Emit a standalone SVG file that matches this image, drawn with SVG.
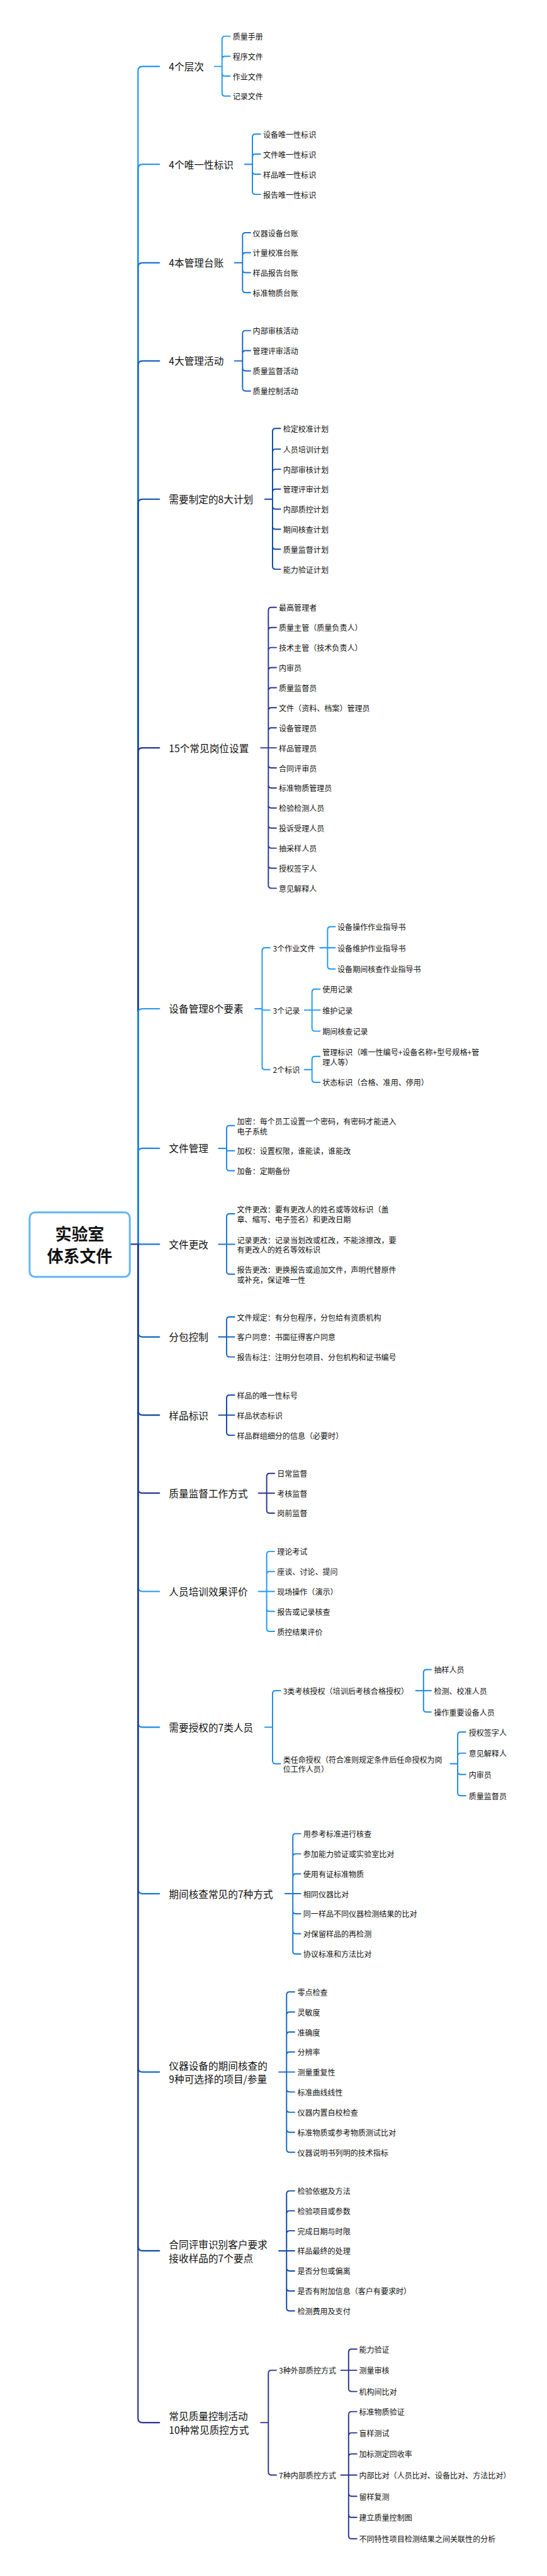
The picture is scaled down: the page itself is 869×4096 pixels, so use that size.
<svg xmlns="http://www.w3.org/2000/svg" width="869" height="4096" viewBox="0 0 869 4096">
<style>
text{font-family:"Noto Sans CJK SC","Noto Sans",sans-serif;fill:#111;dominant-baseline:central}
.b{font-size:26px}
.l{font-size:20px}
.r{font-size:43px;font-weight:bold;text-anchor:middle}
path{fill:none;stroke-linecap:round;stroke-linejoin:round}
.m{stroke-width:3.6}
.s{stroke-width:3.2}
.c1{stroke:#2196f3}.c2{stroke:#1e88e5}.c3{stroke:#1976d2}.c4{stroke:#1565c0}.c5{stroke:#0d47a1}.c6{stroke:#283593}
</style>
<rect width="869" height="4096" fill="#fff"/>
<g transform="scale(0.603)">
<g id="connectors">
<path class="m c1" d="M363.6,3281V187.2Q363.6,175.2 375.6,175.2H420"/>
<path class="m c2" d="M363.6,3281V445.3Q363.6,433.3 375.6,433.3H420"/>
<path class="m c3" d="M363.6,3281V704.9Q363.6,692.9 375.6,692.9H420"/>
<path class="m c4" d="M363.6,3281V963.7Q363.6,951.7 375.6,951.7H420"/>
<path class="m c5" d="M363.6,3281V1328.3Q363.6,1316.3 375.6,1316.3H420"/>
<path class="m c6" d="M363.6,3281V1984Q363.6,1972 375.6,1972H420"/>
<path class="m c1" d="M363.6,3281V2672Q363.6,2660 375.6,2660H420"/>
<path class="m c2" d="M363.6,3281V3040.1Q363.6,3028.1 375.6,3028.1H420"/>
<path class="m c3" d="M363.6,3281H420"/>
<path class="m c4" d="M363.6,3281V3513.4Q363.6,3525.4 375.6,3525.4H420"/>
<path class="m c5" d="M363.6,3281V3719.5Q363.6,3731.5 375.6,3731.5H420"/>
<path class="m c6" d="M363.6,3281V3925.3Q363.6,3937.3 375.6,3937.3H420"/>
<path class="m c1" d="M363.6,3281V4184.5Q363.6,4196.5 375.6,4196.5H420"/>
<path class="m c2" d="M363.6,3281V4542.5Q363.6,4554.5 375.6,4554.5H420"/>
<path class="m c3" d="M363.6,3281V4981.5Q363.6,4993.5 375.6,4993.5H420"/>
<path class="m c4" d="M363.6,3281V5451.7Q363.6,5463.7 375.6,5463.7H420"/>
<path class="m c5" d="M363.6,3281V5923.2Q363.6,5935.2 375.6,5935.2H420"/>
<path class="m c6" d="M363.6,3281V6376.3Q363.6,6388.3 375.6,6388.3H420"/>
<path class="m c6" d="M344,3281H363.6"/>

<path class="s c1" d="M565,175.2H585M585,175.2V103.6Q585,95.6 593,95.6H606M585,175.2V156.3Q585,148.3 593,148.3H606M585,175.2V192.7Q585,200.7 593,200.7H606M585,175.2V245.4Q585,253.4 593,253.4H606"/>
<path class="s c2" d="M644.7,433.3H665M665,433.3V361.7Q665,353.7 673,353.7H686M665,433.3V414.4Q665,406.4 673,406.4H686M665,433.3V451.5Q665,459.5 673,459.5H686M665,433.3V504.6Q665,512.6 673,512.6H686"/>
<path class="s c3" d="M618,692.9H639M639,692.9V621.6Q639,613.6 647,613.6H660M639,692.9V674.3Q639,666.3 647,666.3H660M639,692.9V711Q639,719 647,719H660M639,692.9V763.7Q639,771.7 647,771.7H660"/>
<path class="s c4" d="M618,951.7H639M639,951.7V879.7Q639,871.7 647,871.7H660M639,951.7V932.4Q639,924.4 647,924.4H660M639,951.7V969.9Q639,977.9 647,977.9H660M639,951.7V1023Q639,1031 647,1031H660"/>
<path class="s c5" d="M698,1316.3H718M718,1316.3V1137.8Q718,1129.8 726,1129.8H739M718,1316.3V1192.3Q718,1184.3 726,1184.3H739M718,1316.3V1245.4Q718,1237.4 726,1237.4H739M718,1316.3V1297.8Q718,1289.8 726,1289.8H739M718,1316.3V1334.5Q718,1342.5 726,1342.5H739M718,1316.3V1387.6Q718,1395.6 726,1395.6H739M718,1316.3V1440.3Q718,1448.3 726,1448.3H739M718,1316.3V1493Q718,1501 726,1501H739"/>
<path class="s c6" d="M687,1972H728M707,1972V1609.7Q707,1601.7 715,1601.7H728M707,1972V1662.6Q707,1654.6 715,1654.6H728M707,1972V1715.5Q707,1707.5 715,1707.5H728M707,1972V1768.4Q707,1760.4 715,1760.4H728M707,1972V1821.3Q707,1813.3 715,1813.3H728M707,1972V1874.2Q707,1866.2 715,1866.2H728M707,1972V1927.1Q707,1919.1 715,1919.1H728M707,1972V2016.9Q707,2024.9 715,2024.9H728M707,1972V2069.8Q707,2077.8 715,2077.8H728M707,1972V2122.7Q707,2130.7 715,2130.7H728M707,1972V2175.6Q707,2183.6 715,2183.6H728M707,1972V2228.5Q707,2236.5 715,2236.5H728M707,1972V2281.4Q707,2289.4 715,2289.4H728M707,1972V2334.3Q707,2342.3 715,2342.3H728"/>
<path class="s c1" d="M672,2660H690.6M690.6,2660V2507.2Q690.6,2499.2 698.6,2499.2H711M690.6,2660V2663.5H711M690.6,2660V2812.5Q690.6,2820.5 698.6,2820.5H711"/>
<path class="s c1" d="M843,2499.2H883M863,2499.2V2451.6Q863,2443.6 871,2443.6H883M863,2499.2V2547.2Q863,2555.2 871,2555.2H883"/>
<path class="s c1" d="M802,2663.5H843M822,2663.5V2616.3Q822,2608.3 830,2608.3H843M822,2663.5V2711.1Q822,2719.1 830,2719.1H843"/>
<path class="s c1" d="M802,2820.5H822M822,2820.5V2793.7Q822,2785.7 830,2785.7H843M822,2820.5V2846Q822,2854 830,2854H843"/>
<path class="s c2" d="M576,3028.1H597M597,3028.1V2976Q597,2968 605,2968H618M597,3028.1V3034.3H618M597,3028.1V3079Q597,3087 605,3087H618"/>
<path class="s c3" d="M576,3281H618M597,3281V3208.8Q597,3200.8 605,3200.8H618M597,3281V3352Q597,3360 605,3360H618"/>
<path class="s c4" d="M576,3525.4H618M597,3525.4V3480.7Q597,3472.7 605,3472.7H618M597,3525.4V3570.1Q597,3578.1 605,3578.1H618"/>
<path class="s c5" d="M576,3731.5H618M597,3731.5V3686.8Q597,3678.8 605,3678.8H618M597,3731.5V3776.6Q597,3784.6 605,3784.6H618"/>
<path class="s c6" d="M681,3937.3H723M702.6,3937.3V3893.3Q702.6,3885.3 710.6,3885.3H723M702.6,3937.3V3982Q702.6,3990 710.6,3990H723"/>
<path class="s c1" d="M681,4196.5H723M702.6,4196.5V4099Q702.6,4091 710.6,4091H723M702.6,4196.5V4151.8Q702.6,4143.8 710.6,4143.8H723M702.6,4196.5V4241.2Q702.6,4249.2 710.6,4249.2H723M702.6,4196.5V4293.9Q702.6,4301.9 710.6,4301.9H723"/>
<path class="s c2" d="M698,4554.5H718M718,4554.5V4466.2Q718,4458.2 726,4458.2H739M718,4554.5V4642.9Q718,4650.9 726,4650.9H739"/>
<path class="s c2" d="M1095.6,4458.2H1136M1115.8,4458.2V4410.6Q1115.8,4402.6 1123.8,4402.6H1136M1115.8,4458.2V4506.6Q1115.8,4514.6 1123.8,4514.6H1136"/>
<path class="s c2" d="M1186.6,4650.9H1205.8M1205.8,4650.9V4575.3Q1205.8,4567.3 1213.8,4567.3H1227M1205.8,4650.9V4630.9Q1205.8,4622.9 1213.8,4622.9H1227M1205.8,4650.9V4671.2Q1205.8,4679.2 1213.8,4679.2H1227M1205.8,4650.9V4727.2Q1205.8,4735.2 1213.8,4735.2H1227"/>
<path class="s c3" d="M751,4993.5H792M771.5,4993.5V4843.2Q771.5,4835.2 779.5,4835.2H792M771.5,4993.5V4896.3Q771.5,4888.3 779.5,4888.3H792M771.5,4993.5V4949Q771.5,4941 779.5,4941H792M771.5,4993.5V5038.4Q771.5,5046.4 779.5,5046.4H792M771.5,4993.5V5091.1Q771.5,5099.1 779.5,5099.1H792M771.5,4993.5V5144.5Q771.5,5152.5 779.5,5152.5H792"/>
<path class="s c4" d="M734.7,5463.7H776M755,5463.7V5260.5Q755,5252.5 763,5252.5H776M755,5463.7V5313.6Q755,5305.6 763,5305.6H776M755,5463.7V5366.3Q755,5358.3 763,5358.3H776M755,5463.7V5419Q755,5411 763,5411H776M755,5463.7V5508.4Q755,5516.4 763,5516.4H776M755,5463.7V5561.9Q755,5569.9 763,5569.9H776M755,5463.7V5614.6Q755,5622.6 763,5622.6H776M755,5463.7V5667.3Q755,5675.3 763,5675.3H776"/>
<path class="s c5" d="M734.7,5935.2H776M755,5935.2V5785.1Q755,5777.1 763,5777.1H776M755,5935.2V5837.8Q755,5829.8 763,5829.8H776M755,5935.2V5890.5Q755,5882.5 763,5882.5H776M755,5935.2V5980.3Q755,5988.3 763,5988.3H776M755,5935.2V6033Q755,6041 763,6041H776M755,5935.2V6085.7Q755,6093.7 763,6093.7H776"/>
<path class="s c6" d="M687,6388.3H707M707,6388.3V6258.2Q707,6250.2 715,6250.2H728M707,6388.3V6518.4Q707,6526.4 715,6526.4H728"/>
<path class="s c6" d="M898,6250.2H940M918.4,6250.2V6202.4Q918.4,6194.4 926.4,6194.4H940M918.4,6250.2V6298.2Q918.4,6306.2 926.4,6306.2H940"/>
<path class="s c6" d="M898,6526.4H940M918.4,6526.4V6367.2Q918.4,6359.2 926.4,6359.2H940M918.4,6526.4V6423.2Q918.4,6415.2 926.4,6415.2H940M918.4,6526.4V6478.8Q918.4,6470.8 926.4,6470.8H940M918.4,6526.4V6574.4Q918.4,6582.4 926.4,6582.4H940M918.4,6526.4V6630Q918.4,6638 926.4,6638H940M918.4,6526.4V6686.4Q918.4,6694.4 926.4,6694.4H940"/>
</g>

<g id="root"><rect x="78" y="3197" width="264" height="170" rx="14" fill="#fff" stroke="#64b5f6" stroke-width="5"/><text class="r" x="210" y="3251">实验室</text><text class="r" x="210" y="3310">体系文件</text></g>

<g id="n1"><text class="b" x="445" y="175.2">4个层次</text></g>
<g id="n1-1"><text class="l" x="613" y="95.6">质量手册</text></g>
<g id="n1-2"><text class="l" x="613" y="148.3">程序文件</text></g>
<g id="n1-3"><text class="l" x="613" y="200.7">作业文件</text></g>
<g id="n1-4"><text class="l" x="613" y="253.4">记录文件</text></g>

<g id="n2"><text class="b" x="445" y="433.3">4个唯一性标识</text></g>
<g id="n2-1"><text class="l" x="693" y="353.7">设备唯一性标识</text></g>
<g id="n2-2"><text class="l" x="693" y="406.4">文件唯一性标识</text></g>
<g id="n2-3"><text class="l" x="693" y="459.5">样品唯一性标识</text></g>
<g id="n2-4"><text class="l" x="693" y="512.6">报告唯一性标识</text></g>

<g id="n3"><text class="b" x="445" y="692.9">4本管理台账</text></g>
<g id="n3-1"><text class="l" x="666" y="613.6">仪器设备台账</text></g>
<g id="n3-2"><text class="l" x="666" y="666.3">计量校准台账</text></g>
<g id="n3-3"><text class="l" x="666" y="719">样品报告台账</text></g>
<g id="n3-4"><text class="l" x="666" y="771.7">标准物质台账</text></g>

<g id="n4"><text class="b" x="445" y="951.7">4大管理活动</text></g>
<g id="n4-1"><text class="l" x="666" y="871.7">内部审核活动</text></g>
<g id="n4-2"><text class="l" x="666" y="924.4">管理评审活动</text></g>
<g id="n4-3"><text class="l" x="666" y="977.9">质量监督活动</text></g>
<g id="n4-4"><text class="l" x="666" y="1031">质量控制活动</text></g>

<g id="n5"><text class="b" x="445" y="1316.3">需要制定的8大计划</text></g>
<g id="n5-1"><text class="l" x="745.7" y="1129.8">检定校准计划</text></g>
<g id="n5-2"><text class="l" x="745.7" y="1184.3">人员培训计划</text></g>
<g id="n5-3"><text class="l" x="745.7" y="1237.4">内部审核计划</text></g>
<g id="n5-4"><text class="l" x="745.7" y="1289.8">管理评审计划</text></g>
<g id="n5-5"><text class="l" x="745.7" y="1342.5">内部质控计划</text></g>
<g id="n5-6"><text class="l" x="745.7" y="1395.6">期间核查计划</text></g>
<g id="n5-7"><text class="l" x="745.7" y="1448.3">质量监督计划</text></g>
<g id="n5-8"><text class="l" x="745.7" y="1501">能力验证计划</text></g>

<g id="n6"><text class="b" x="445" y="1972">15个常见岗位设置</text></g>
<g id="n6-1"><text class="l" x="734.7" y="1601.7">最高管理者</text></g>
<g id="n6-2"><text class="l" x="734.7" y="1654.6">质量主管（质量负责人）</text></g>
<g id="n6-3"><text class="l" x="734.7" y="1707.5">技术主管（技术负责人）</text></g>
<g id="n6-4"><text class="l" x="734.7" y="1760.4">内审员</text></g>
<g id="n6-5"><text class="l" x="734.7" y="1813.3">质量监督员</text></g>
<g id="n6-6"><text class="l" x="734.7" y="1866.2">文件（资料、档案）管理员</text></g>
<g id="n6-7"><text class="l" x="734.7" y="1919.1">设备管理员</text></g>
<g id="n6-8"><text class="l" x="734.7" y="1972">样品管理员</text></g>
<g id="n6-9"><text class="l" x="734.7" y="2024.9">合同评审员</text></g>
<g id="n6-10"><text class="l" x="734.7" y="2077.8">标准物质管理员</text></g>
<g id="n6-11"><text class="l" x="734.7" y="2130.7">检验检测人员</text></g>
<g id="n6-12"><text class="l" x="734.7" y="2183.6">投诉受理人员</text></g>
<g id="n6-13"><text class="l" x="734.7" y="2236.5">抽采样人员</text></g>
<g id="n6-14"><text class="l" x="734.7" y="2289.4">授权签字人</text></g>
<g id="n6-15"><text class="l" x="734.7" y="2342.3">意见解释人</text></g>

<g id="n7"><text class="b" x="445" y="2660">设备管理8个要素</text></g>
<g id="n7-1"><text class="l" x="719" y="2499.2">3个作业文件</text></g>
<g id="n7-1-1"><text class="l" x="889" y="2443.6">设备操作作业指导书</text></g>
<g id="n7-1-2"><text class="l" x="889" y="2499.2">设备维护作业指导书</text></g>
<g id="n7-1-3"><text class="l" x="889" y="2555.2">设备期间核查作业指导书</text></g>
<g id="n7-2"><text class="l" x="719" y="2663.5">3个记录</text></g>
<g id="n7-2-1"><text class="l" x="849.5" y="2608.3">使用记录</text></g>
<g id="n7-2-2"><text class="l" x="849.5" y="2663.5">维护记录</text></g>
<g id="n7-2-3"><text class="l" x="849.5" y="2719.1">期间核查记录</text></g>
<g id="n7-3"><text class="l" x="719" y="2820.5">2个标识</text></g>
<g id="n7-3-1"><text class="l"><tspan x="849.5" y="2772.5">管理标识（唯一性编号+设备名称+型号规格+管</tspan><tspan x="849.5" y="2799">理人等）</tspan></text></g>
<g id="n7-3-2"><text class="l" x="849.5" y="2854">状态标识（合格、准用、停用）</text></g>

<g id="n8"><text class="b" x="445" y="3028.1">文件管理</text></g>
<g id="n8-1"><text class="l"><tspan x="624.5" y="2955">加密：每个员工设置一个密码，有密码才能进入</tspan><tspan x="624.5" y="2981.5">电子系统</tspan></text></g>
<g id="n8-2"><text class="l" x="624.5" y="3034.3">加权：设置权限，谁能读，谁能改</text></g>
<g id="n8-3"><text class="l" x="624.5" y="3087">加备：定期备份</text></g>

<g id="n9"><text class="b" x="445" y="3281">文件更改</text></g>
<g id="n9-1"><text class="l"><tspan x="624.5" y="3188">文件更改：要有更改人的姓名或等效标识（盖</tspan><tspan x="624.5" y="3214.5">章、缩写、电子签名）和更改日期</tspan></text></g>
<g id="n9-2"><text class="l"><tspan x="624.5" y="3268">记录更改：记录当划改或杠改，不能涂擦改，要</tspan><tspan x="624.5" y="3294">有更改人的姓名等效标识</tspan></text></g>
<g id="n9-3"><text class="l"><tspan x="624.5" y="3347">报告更改：更换报告或追加文件，声明代替原件</tspan><tspan x="624.5" y="3373.5">或补充，保证唯一性</tspan></text></g>

<g id="n10"><text class="b" x="445" y="3525.4">分包控制</text></g>
<g id="n10-1"><text class="l" x="624.5" y="3472.7">文件规定：有分包程序，分包给有资质机构</text></g>
<g id="n10-2"><text class="l" x="624.5" y="3525.4">客户同意：书面征得客户同意</text></g>
<g id="n10-3"><text class="l" x="624.5" y="3578.1">报告标注：注明分包项目、分包机构和证书编号</text></g>

<g id="n11"><text class="b" x="445" y="3731.5">样品标识</text></g>
<g id="n11-1"><text class="l" x="624.5" y="3678.8">样品的唯一性标号</text></g>
<g id="n11-2"><text class="l" x="624.5" y="3731.5">样品状态标识</text></g>
<g id="n11-3"><text class="l" x="624.5" y="3784.6">样品群组细分的信息（必要时）</text></g>

<g id="n12"><text class="b" x="445" y="3937.3">质量监督工作方式</text></g>
<g id="n12-1"><text class="l" x="730" y="3885.3">日常监督</text></g>
<g id="n12-2"><text class="l" x="730" y="3937.3">考核监督</text></g>
<g id="n12-3"><text class="l" x="730" y="3990">岗前监督</text></g>

<g id="n13"><text class="b" x="445" y="4196.5">人员培训效果评价</text></g>
<g id="n13-1"><text class="l" x="730" y="4091">理论考试</text></g>
<g id="n13-2"><text class="l" x="730" y="4143.8">座谈、讨论、提问</text></g>
<g id="n13-3"><text class="l" x="730" y="4196.5">现场操作（演示）</text></g>
<g id="n13-4"><text class="l" x="730" y="4249.2">报告或记录核查</text></g>
<g id="n13-5"><text class="l" x="730" y="4301.9">质控结果评价</text></g>

<g id="n14"><text class="b" x="445" y="4554.5">需要授权的7类人员</text></g>
<g id="n14-1"><text class="l" x="745.7" y="4458.2">3类考核授权（培训后考核合格授权）</text></g>
<g id="n14-1-1"><text class="l" x="1143.4" y="4402.6">抽样人员</text></g>
<g id="n14-1-2"><text class="l" x="1143.4" y="4458.2">检测、校准人员</text></g>
<g id="n14-1-3"><text class="l" x="1143.4" y="4514.6">操作重要设备人员</text></g>
<g id="n14-2"><text class="l"><tspan x="745.7" y="4638">类任命授权（符合准则规定条件后任命授权为岗</tspan><tspan x="745.7" y="4664">位工作人员）</tspan></text></g>
<g id="n14-2-1"><text class="l" x="1235" y="4567.3">授权签字人</text></g>
<g id="n14-2-2"><text class="l" x="1235" y="4622.9">意见解释人</text></g>
<g id="n14-2-3"><text class="l" x="1235" y="4679.2">内审员</text></g>
<g id="n14-2-4"><text class="l" x="1235" y="4735.2">质量监督员</text></g>

<g id="n15"><text class="b" x="445" y="4993.5">期间核查常见的7种方式</text></g>
<g id="n15-1"><text class="l" x="799" y="4835.2">用参考标准进行核查</text></g>
<g id="n15-2"><text class="l" x="799" y="4888.3">参加能力验证或实验室比对</text></g>
<g id="n15-3"><text class="l" x="799" y="4941">使用有证标准物质</text></g>
<g id="n15-4"><text class="l" x="799" y="4993.7">相同仪器比对</text></g>
<g id="n15-5"><text class="l" x="799" y="5046.4">同一样品不同仪器检测结果的比对</text></g>
<g id="n15-6"><text class="l" x="799" y="5099.1">对保留样品的再检测</text></g>
<g id="n15-7"><text class="l" x="799" y="5152.5">协议标准和方法比对</text></g>

<g id="n16"><text class="b"><tspan x="445" y="5446">仪器设备的期间核查的</tspan><tspan x="445" y="5481.5">9种可选择的项目/参量</tspan></text></g>
<g id="n16-1"><text class="l" x="783.4" y="5252.5">零点检查</text></g>
<g id="n16-2"><text class="l" x="783.4" y="5305.6">灵敏度</text></g>
<g id="n16-3"><text class="l" x="783.4" y="5358.3">准确度</text></g>
<g id="n16-4"><text class="l" x="783.4" y="5411">分辨率</text></g>
<g id="n16-5"><text class="l" x="783.4" y="5463.7">测量重复性</text></g>
<g id="n16-6"><text class="l" x="783.4" y="5516.4">标准曲线线性</text></g>
<g id="n16-7"><text class="l" x="783.4" y="5569.9">仪器内置自校检查</text></g>
<g id="n16-8"><text class="l" x="783.4" y="5622.6">标准物质或参考物质测试比对</text></g>
<g id="n16-9"><text class="l" x="783.4" y="5675.3">仪器说明书列明的技术指标</text></g>

<g id="n17"><text class="b"><tspan x="445" y="5917.5">合同评审识别客户要求</tspan><tspan x="445" y="5953">接收样品的7个要点</tspan></text></g>
<g id="n17-1"><text class="l" x="783.4" y="5777.1">检验依据及方法</text></g>
<g id="n17-2"><text class="l" x="783.4" y="5829.8">检验项目或参数</text></g>
<g id="n17-3"><text class="l" x="783.4" y="5882.5">完成日期与时限</text></g>
<g id="n17-4"><text class="l" x="783.4" y="5935.2">样品最终的处理</text></g>
<g id="n17-5"><text class="l" x="783.4" y="5988.3">是否分包或偏离</text></g>
<g id="n17-6"><text class="l" x="783.4" y="6041">是否有附加信息（客户有要求时）</text></g>
<g id="n17-7"><text class="l" x="783.4" y="6093.7">检测费用及支付</text></g>

<g id="n18"><text class="b"><tspan x="445" y="6370.5">常见质量控制活动</tspan><tspan x="445" y="6406">10种常见质控方式</tspan></text></g>
<g id="n18-1"><text class="l" x="734.7" y="6250.2">3种外部质控方式</text></g>
<g id="n18-1-1"><text class="l" x="946" y="6194.4">能力验证</text></g>
<g id="n18-1-2"><text class="l" x="946" y="6250.2">测量审核</text></g>
<g id="n18-1-3"><text class="l" x="946" y="6306.2">机构间比对</text></g>
<g id="n18-2"><text class="l" x="734.7" y="6526.4">7种内部质控方式</text></g>
<g id="n18-2-1"><text class="l" x="946" y="6359.2">标准物质验证</text></g>
<g id="n18-2-2"><text class="l" x="946" y="6415.2">盲样测试</text></g>
<g id="n18-2-3"><text class="l" x="946" y="6470.8">加标测定回收率</text></g>
<g id="n18-2-4"><text class="l" x="946" y="6526.4">内部比对（人员比对、设备比对、方法比对）</text></g>
<g id="n18-2-5"><text class="l" x="946" y="6582.4">留样复测</text></g>
<g id="n18-2-6"><text class="l" x="946" y="6638">建立质量控制图</text></g>
<g id="n18-2-7"><text class="l" x="946" y="6694.4">不同特性项目检测结果之间关联性的分析</text></g>
</g>
</svg>
